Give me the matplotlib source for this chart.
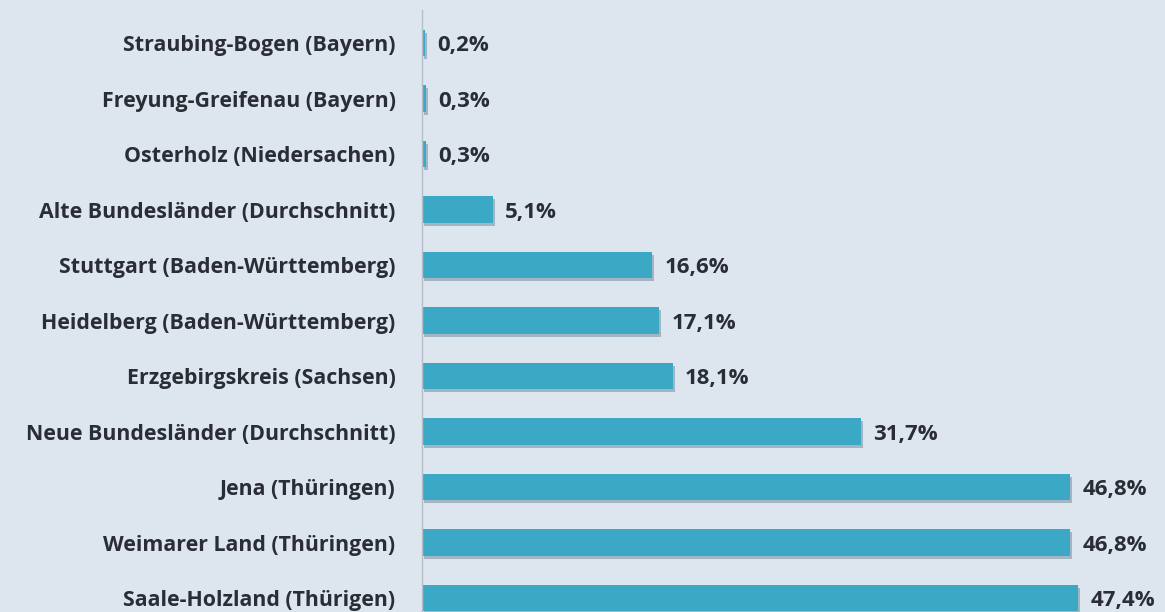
import matplotlib
matplotlib.use("Agg")
import matplotlib.pyplot as plt
from matplotlib.transforms import offset_copy

categories = [
    "Straubing-Bogen (Bayern)",
    "Freyung-Greifenau (Bayern)",
    "Osterholz (Niedersachen)",
    "Alte Bundesländer (Durchschnitt)",
    "Stuttgart (Baden-Württemberg)",
    "Heidelberg (Baden-Württemberg)",
    "Erzgebirgskreis (Sachsen)",
    "Neue Bundesländer (Durchschnitt)",
    "Jena (Thüringen)",
    "Weimarer Land (Thüringen)",
    "Saale-Holzland (Thürigen)",
]
values = [0.2, 0.3, 0.3, 5.1, 16.6, 17.1, 18.1, 31.7, 46.8, 46.8, 47.4]
value_labels = ["0,2%", "0,3%", "0,3%", "5,1%", "16,6%", "17,1%", "18,1%",
                "31,7%", "46,8%", "46,8%", "47,4%"]

bg = "#dde6ef"
bar_color = "#3ba9c6"
shadow_color = "#a3b5c2"
text_color = "#2a2c36"

plt.rcParams['font.family'] = ['Open Sans', 'DejaVu Sans']

fig = plt.figure(figsize=(11.65, 6.12), dpi=100, facecolor=bg)
ax = fig.add_axes([422/1165, 0, 1 - 422/1165, 1 - 10/612])
ax.set_facecolor(bg)

ypos = list(range(len(categories)))
h = 0.48
# shadow
shadow_tr = offset_copy(ax.transData, fig=fig, x=2, y=-3, units='dots')
ax.barh(ypos, values, height=h, color=shadow_color, transform=shadow_tr,
        zorder=1, edgecolor='none')
ax.barh(ypos, values, height=h, color=bar_color, zorder=2, edgecolor='none')

ax.set_xlim(0, 743/13.85)
ax.set_ylim((612-43)/55.5, -(43-10)/55.5)

for y, v, lab in zip(ypos, values, value_labels):
    ax.annotate(lab, (v, y), xytext=(9, -2), textcoords='offset points',
                ha='left', va='center', fontsize=16, fontweight='bold',
                color=text_color, annotation_clip=False)

ax.set_yticks(ypos)
ax.set_yticklabels(categories, fontsize=15.4, fontweight='bold', color=text_color)
ax.tick_params(axis='y', length=0, pad=19)
ax.set_xticks([])
for s in ['top', 'right', 'bottom']:
    ax.spines[s].set_visible(False)
ax.spines['left'].set_color('#b4bec8')
ax.spines['left'].set_linewidth(1.0)

fig.savefig("out.png", dpi=100, facecolor=bg)
